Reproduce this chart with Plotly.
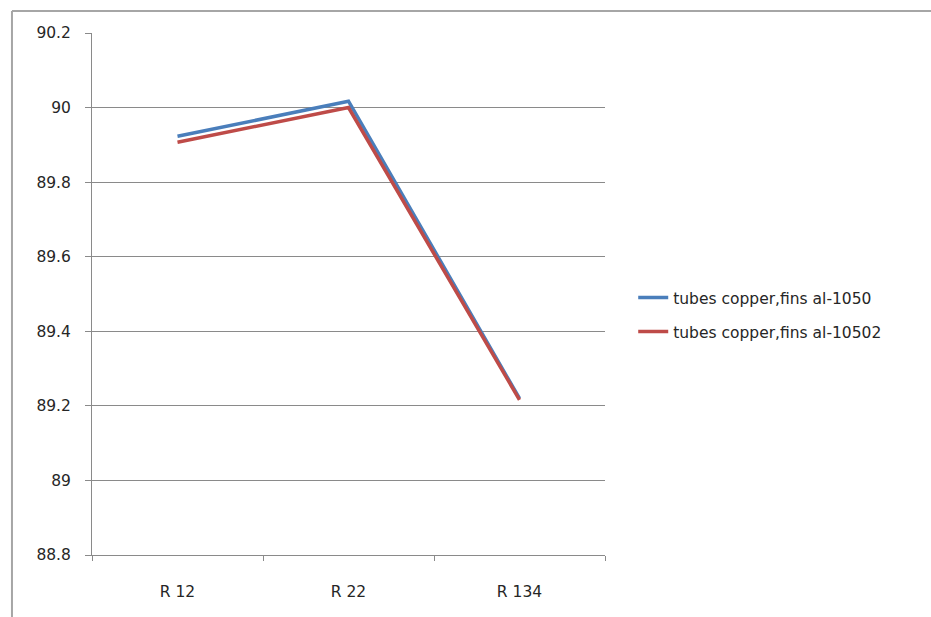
import plotly.graph_objects as go

# Refrigerant categories and series values
refrigerants = ["R 12", "R 22", "R 134"]
fins_al_1050 = [89.923, 90.017, 89.220]
fins_al_10502 = [89.907, 90.000, 89.216]

series_names = ["tubes copper,fins al-1050", "tubes copper,fins al-10502"]
y_ticks = [88.8, 89.0, 89.2, 89.4, 89.6, 89.8, 90.0, 90.2]
y_tick_text = ["88.8", "89", "89.2", "89.4", "89.6", "89.8", "90", "90.2"]

font_family = "DejaVu Sans, sans-serif"
grid_color = "#8a8a8a"

fig = go.Figure()
fig.add_trace(go.Scatter(
    x=refrigerants, y=fins_al_1050, mode="lines", name=series_names[0],
    line=dict(color="#4a7ebb", width=3.5), legendgroup="a",
))
fig.add_trace(go.Scatter(
    x=refrigerants, y=fins_al_10502, mode="lines", name=series_names[1],
    line=dict(color="#be4b48", width=3.5), legendgroup="b",
))

# Outer chart frame (top and left edges; the rest runs off the page)
frame = dict(color="#a6a6a6", width=2)
fig.add_shape(type="line", xref="paper", yref="paper",
              x0=-0.156, x1=1.7, y0=1.042, y1=1.042, line=frame, layer="below")
fig.add_shape(type="line", xref="paper", yref="paper",
              x0=-0.156, x1=-0.156, y0=-0.2, y1=1.042, line=frame, layer="below")

fig.update_layout(
    width=931, height=617,
    margin=dict(l=92, r=326, t=33, b=62),
    paper_bgcolor="white", plot_bgcolor="white",
    font=dict(family=font_family, size=15.5, color="#262626"),
    showlegend=True,
    legend=dict(
        x=1.055, y=0.46, xanchor="left", yanchor="middle",
        traceorder="grouped", tracegroupgap=11,
        font=dict(size=15.5, color="#262626"),
        bgcolor="rgba(0,0,0,0)",
    ),
    xaxis=dict(
        type="category", range=[-0.5, 2.5],
        showgrid=False, showline=True, linecolor=grid_color, linewidth=1,
        ticks="outside", tickson="boundaries", ticklen=5, tickcolor=grid_color,
        tickfont=dict(size=15.5), ticklabelstandoff=22,
        zeroline=False, fixedrange=True,
    ),
    yaxis=dict(
        range=[88.8, 90.2], tickvals=y_ticks, ticktext=y_tick_text,
        showgrid=True, gridcolor=grid_color, gridwidth=1,
        showline=True, linecolor=grid_color, linewidth=1,
        ticks="outside", ticklen=6, tickcolor=grid_color,
        tickfont=dict(size=15.5), ticklabelstandoff=11,
        zeroline=False, fixedrange=True,
    ),
)

fig.write_html("out.html")
